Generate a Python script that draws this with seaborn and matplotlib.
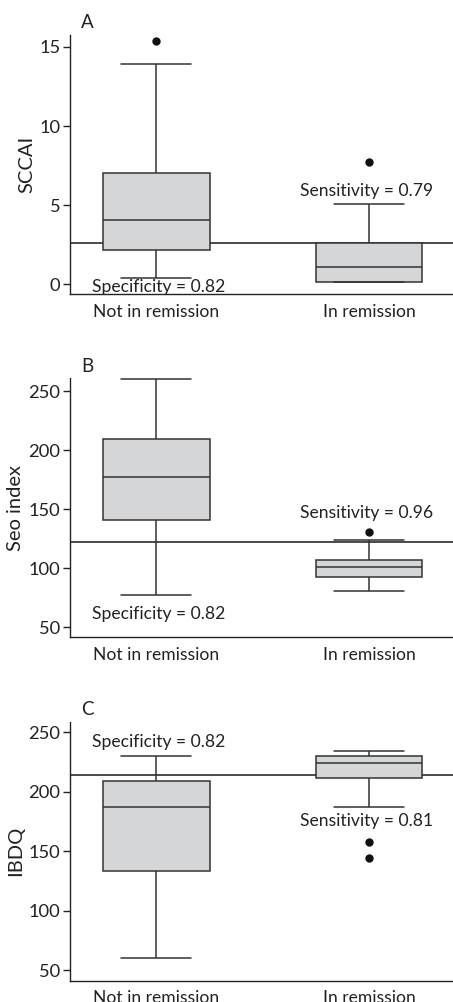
import matplotlib
matplotlib.use("Agg")
import matplotlib.pyplot as plt
import seaborn as sns
import pandas as pd

# ---- data (quartile values repeated so the boxes reproduce the drawn summary) ----
groups = ["Not in remission", "In remission"]

sccai_not = [0.44, 2.17, 2.17, 4.04, 4.04, 7.05, 7.05, 13.95, 15.36]
sccai_rem = [0.16, 0.16, 0.16, 1.11, 1.11, 2.63, 2.63, 5.11, 7.74]
seo_not = [77.5, 141.2, 141.2, 177.3, 177.3, 209.3, 209.3, 260.5]
seo_rem = [80.6, 92.4, 92.4, 101.1, 101.1, 106.7, 106.7, 124.3, 130.8]
ibdq_not = [60.6, 133.2, 133.2, 187.0, 187.0, 209.4, 209.4, 230.1]
ibdq_rem = [144.1, 157.6, 187.3, 211.6, 211.6, 211.6, 224.5, 224.5, 224.5, 230.1, 230.1, 230.1, 234.6]

cutoffs = [2.6, 121.8, 214.4]
ylabels = ["SCCAI", "Seo index", "IBDQ"]
letters = ["A", "B", "C"]
spec_text = ["Specificity = 0.82", "Specificity = 0.82", "Specificity = 0.82"]
sens_text = ["Sensitivity = 0.79", "Sensitivity = 0.96", "Sensitivity = 0.81"]
spec_y = [-0.15, 61.5, 242.2]
sens_y = [5.9, 147.0, 175.5]
yticks = [[0, 5, 10, 15], [50, 100, 150, 200, 250], [50, 100, 150, 200, 250]]
ylims = [(-0.6, 15.75), (41.3, 261.2), (41.3, 259.0)]

panels = [(sccai_not, sccai_rem), (seo_not, seo_rem), (ibdq_not, ibdq_rem)]

sns.set_theme(style="white")
plt.rcParams["font.family"] = ["Lato", "DejaVu Sans"]

W, H = 453, 1002
fig = plt.figure(figsize=(W / 100, H / 100), dpi=100)
# axes rectangles in pixels: (top, bottom)
rects = [(35, 294), (378.3, 637.3), (721.7, 980.7)]
left_px = 70

line_c = "#333333"
fill_c = "#d5d6d8"
txt_c = "#222222"
fs = 12.6

for i, ((a, b), (top, bot)) in enumerate(zip(panels, rects)):
    ax = fig.add_axes([left_px / W, 1 - bot / H, (W - left_px) / W, (bot - top) / H])
    df = pd.DataFrame({
        "group": [groups[0]] * len(a) + [groups[1]] * len(b),
        "value": list(a) + list(b),
    })
    sns.boxplot(data=df, x="group", y="value", order=groups, ax=ax,
                width=0.5, color=fill_c, linecolor=line_c, linewidth=1.1,
                whis=1.5, saturation=1,
                flierprops=dict(marker="o", markerfacecolor="#111111",
                                markeredgecolor="#111111", markersize=5),
                capwidths=0.33)
    ax.axhline(cutoffs[i], color="#4a4a4a", lw=1.4, zorder=1)
    ax.set_xlim(-0.406, 1.395)
    ax.set_ylim(*ylims[i])
    ax.set_yticks(yticks[i])
    ax.set_xlabel("")
    ax.set_ylabel(ylabels[i], fontsize=14.5, color=txt_c, labelpad=3)
    for s in ["top", "right"]:
        ax.spines[s].set_visible(False)
    for s in ["left", "bottom"]:
        ax.spines[s].set_color(txt_c)
        ax.spines[s].set_linewidth(1.0)
    ax.tick_params(axis="y", left=True, length=5, width=1, color=txt_c,
                   labelsize=13.2, pad=2, labelcolor=txt_c)
    ax.tick_params(axis="x", bottom=False, labelsize=fs, pad=1, labelcolor=txt_c)
    ax.text(0.01, spec_y[i], spec_text[i], ha="center", va="center",
            fontsize=fs, color=txt_c)
    ax.text(0.99, sens_y[i], sens_text[i], ha="center", va="center",
            fontsize=fs, color=txt_c)
    fig.text(87 / W, 1 - (top - 12) / H, letters[i], ha="center", va="center",
             fontsize=13.5, color=txt_c)

fig.savefig("out.png", dpi=100)
